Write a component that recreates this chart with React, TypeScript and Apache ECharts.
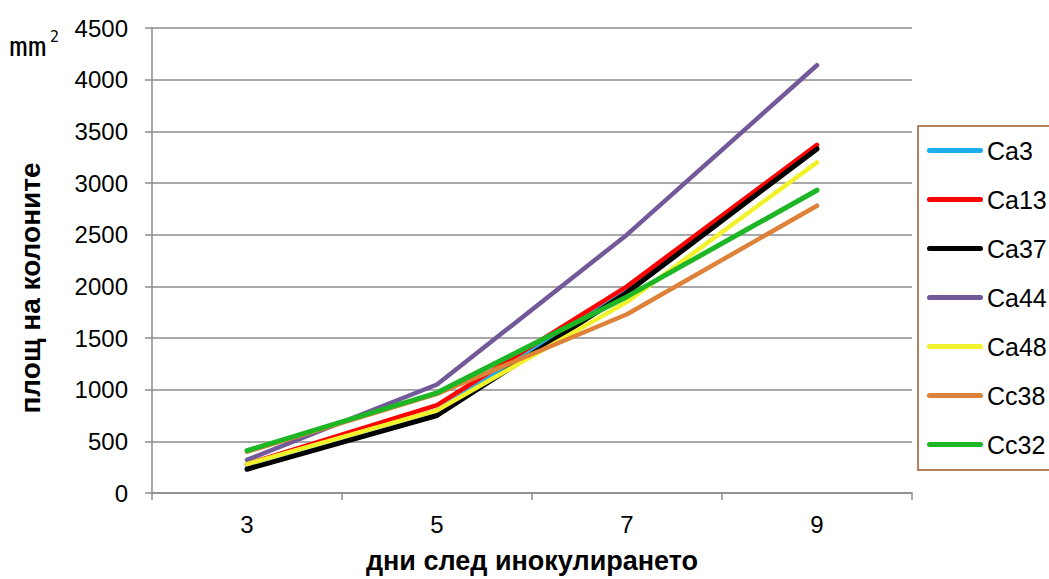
import React, { useEffect, useRef } from "react";
import * as echarts from "echarts";

const days = ["3", "5", "7", "9"];
const ca3 = [270, 800, 1950, 3350];
const ca13 = [280, 850, 2000, 3370];
const ca37 = [230, 750, 1940, 3330];
const ca44 = [320, 1050, 2500, 4140];
const ca48 = [280, 800, 1850, 3200];
const cc38 = [400, 960, 1730, 2780];
const cc32 = [410, 970, 1900, 2930];

const seriesDefs = [
  { name: "Ca3", data: ca3, color: "#1CAEEA", width: 4.5 },
  { name: "Ca13", data: ca13, color: "#FF0000", width: 4.5 },
  { name: "Ca37", data: ca37, color: "#000000", width: 5 },
  { name: "Ca44", data: ca44, color: "#72599A", width: 4.5 },
  { name: "Ca48", data: ca48, color: "#F2F22C", width: 4.5 },
  { name: "Cc38", data: cc38, color: "#DE823A", width: 4.5 },
  { name: "Cc32", data: cc32, color: "#1DB624", width: 5 },
];

export default function App() {
  const ref = useRef<HTMLDivElement>(null);
  useEffect(() => {
    if (!ref.current) return;
    const chart = echarts.init(ref.current, null, { renderer: "svg" });
    const font = "Liberation Sans, Arial, sans-serif";
    chart.setOption({
      animation: false,
      backgroundColor: "#ffffff",
      textStyle: { fontFamily: font },
      grid: { left: 152, right: 137, top: 28, bottom: 84 },
      legend: {
        orient: "vertical",
        left: 918,
        top: 126,
        padding: [12, 60, 13, 9],
        itemGap: 24,
        itemWidth: 56,
        itemHeight: 14,
        borderColor: "#A0582A",
        borderWidth: 1.5,
        textStyle: {
          fontSize: 25,
          lineHeight: 24,
          color: "#000",
          fontFamily: font,
          padding: [0, 0, 0, -1],
        },
        data: seriesDefs.map((s) => ({
          name: s.name,
          icon: "path://M2.5,0L53.5,0A2.5,2.5,0,0,1,53.5,5L2.5,5A2.5,2.5,0,0,1,2.5,0Z",
        })),
      },
      xAxis: {
        type: "category",
        data: days,
        boundaryGap: true,
        name: "дни след инокулирането",
        nameLocation: "middle",
        nameGap: 54,
        nameTextStyle: { fontSize: 27, fontWeight: "bold", color: "#000", fontFamily: font },
        axisLine: { lineStyle: { color: "#8C8C8C", width: 1.5 } },
        axisTick: { show: true, length: 7, lineStyle: { color: "#8C8C8C", width: 1.5 } },
        axisLabel: { fontSize: 24, color: "#000", margin: 19, fontFamily: font },
        splitLine: { show: false },
      },
      yAxis: {
        type: "value",
        min: 0,
        max: 4500,
        interval: 500,
        axisLine: { show: true, lineStyle: { color: "#8C8C8C", width: 1.5 } },
        axisTick: { show: true, length: 7, lineStyle: { color: "#8C8C8C", width: 1.5 } },
        axisLabel: {
          fontSize: 24,
          color: "#000",
          margin: 24,
          fontFamily: font,
          formatter: (v: number) => String(v),
        },
        splitLine: { lineStyle: { color: "#8C8C8C", width: 1.5 } },
      },
      graphic: [
        {
          type: "text",
          x: 9,
          y: 60,
          scaleX: 1.2,
          style: {
            text: "mm",
            fontSize: 26,
            fill: "#000",
            fontFamily: "DejaVu Sans Mono, monospace",
            verticalAlign: "bottom",
          },
        },
        {
          type: "text",
          x: 50,
          y: 37,
          style: {
            text: "2",
            fontSize: 15,
            fill: "#000",
            fontFamily: "DejaVu Sans Mono, monospace",
            verticalAlign: "middle",
          },
        },
        {
          type: "text",
          x: 30,
          y: 288,
          rotation: Math.PI / 2,
          style: {
            text: "площ на колоните",
            fontSize: 28,
            fontWeight: "bold",
            fill: "#000",
            fontFamily: font,
            align: "center",
            verticalAlign: "middle",
          },
        },
      ],
      series: seriesDefs.map((s) => ({
        name: s.name,
        type: "line",
        data: s.data,
        symbol: "none",
        color: s.color,
        lineStyle: { color: s.color, width: s.width, cap: "round", join: "round" },
        itemStyle: { color: s.color },
      })),
    });
    return () => chart.dispose();
  }, []);
  return (
    <div
      ref={ref}
      style={{ position: "fixed", left: 0, top: 0, width: 1049, height: 579 }}
    />
  );
}
